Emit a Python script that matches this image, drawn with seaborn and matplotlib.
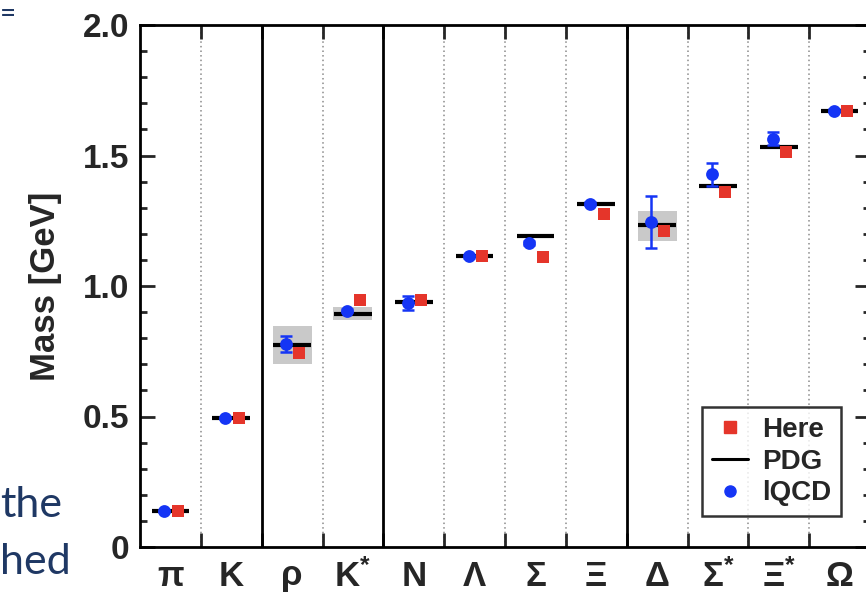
import numpy as np
import pandas as pd
import matplotlib
matplotlib.use("Agg")
import matplotlib.pyplot as plt
import seaborn as sns
from matplotlib.lines import Line2D
from matplotlib.ticker import MultipleLocator, FixedLocator

# ---- data ----
particles = ["π", "K", "ρ", "K$^{*}$", "N", "Λ", "Σ", "Ξ", "Δ", "Σ$^{*}$", "Ξ$^{*}$", "Ω"]
pdg_mass  = [0.139, 0.494, 0.775, 0.893, 0.939, 1.116, 1.190, 1.315, 1.232, 1.385, 1.533, 1.672]
here_mass = [0.139, 0.494, 0.745, 0.948, 0.945, 1.114, 1.112, 1.276, 1.212, 1.360, 1.513, 1.670]
lqcd_mass = [0.139, 0.494, 0.778, 0.905, 0.935, 1.114, 1.165, 1.315, 1.245, 1.428, 1.565, 1.672]
lqcd_err  = [0.004, 0.004, 0.030, 0.006, 0.026, 0.005, 0.006, 0.005, 0.098, 0.045, 0.024, 0.006]
width_lo  = [np.nan, np.nan, 0.700, 0.870, np.nan, np.nan, np.nan, np.nan, 1.173, np.nan, np.nan, np.nan]
width_hi  = [np.nan, np.nan, 0.848, 0.918, np.nan, np.nan, np.nan, np.nan, 1.286, np.nan, np.nan, np.nan]
solid_separators  = [2, 4, 8]
dotted_separators = [1, 3, 5, 6, 7, 9, 10, 11]
yticks = [0, 0.5, 1.0, 1.5, 2.0]
ytick_labels = ["0", "0.5", "1.0", "1.5", "2.0"]
legend_labels = ["Here", "PDG", "lQCD"]

BLUE = "#1535f5"
RED = "#e5352a"

sns.set_style("ticks")
plt.rcParams["font.family"] = ["Liberation Sans", "DejaVu Sans"]
plt.rcParams["mathtext.fontset"] = "custom"
plt.rcParams["mathtext.bf"] = "Liberation Sans:bold"
plt.rcParams["mathtext.rm"] = "Liberation Sans:bold"
plt.rcParams["mathtext.default"] = "bf"

W, H = 866, 595
fig = plt.figure(figsize=(W / 100, H / 100), dpi=100)
ax = fig.add_axes([140 / W, 48 / H, 730 / W, 522 / H])

n = len(particles)
centers = np.arange(n) + 0.5
df = pd.DataFrame({
    "x": centers,
    "pdg": pdg_mass,
    "here": here_mass,
    "lqcd": lqcd_mass,
    "err": lqcd_err,
    "lo": width_lo,
    "hi": width_hi,
})

# gray width bands
for _, r in df.dropna(subset=["lo"]).iterrows():
    ax.fill_between([r.x - 0.32, r.x + 0.32], r.lo, r.hi, color="#c9c9c9", lw=0, zorder=1)

# separators
for s in dotted_separators:
    ax.axvline(s, color="#8a8a8a", lw=1.1, ls=(0, (1, 2)), zorder=0.5)
for s in solid_separators:
    ax.axvline(s, color="black", lw=2.0, zorder=0.6)

# PDG lines
ax.hlines(df.pdg, df.x - 0.31, df.x + 0.31, color="black", lw=3.0, zorder=2)

# lQCD error bars + points
ax.errorbar(df.x - 0.1, df.lqcd, yerr=df.err, fmt="none", ecolor=BLUE, elinewidth=1.8,
            capsize=4, capthick=1.8, zorder=3)
sns.scatterplot(x=df.x - 0.1, y=df.lqcd, ax=ax, color=BLUE, marker="o", s=85,
                edgecolor=BLUE, linewidth=0, zorder=4, legend=False)
sns.scatterplot(x=df.x + 0.12, y=df.here, ax=ax, color=RED, marker="s", s=75,
                edgecolor=RED, linewidth=0, zorder=5, legend=False)

ax.set_xlim(0, n)
ax.set_ylim(0, 2.0)
ax.set_xlabel("")
ax.set_ylabel("Mass [GeV]", fontsize=25, fontweight="bold")
ax.yaxis.set_label_coords((62 - 140) / 730, 0.5)

# x ticks: separators as major ticks, labels at centers
ax.xaxis.set_major_locator(FixedLocator(list(range(1, n))))
ax.xaxis.set_minor_locator(FixedLocator(list(centers)))
ax.set_xticklabels([], minor=False)
ax.set_xticklabels(particles, minor=True, fontsize=25, fontweight="bold")
ax.tick_params(axis="x", which="major", direction="in", length=10, width=2,
               top=True, bottom=True, labelbottom=False)
ax.tick_params(axis="x", which="minor", length=0, pad=9)

# y ticks
ax.set_yticks(yticks)
ax.set_yticklabels(ytick_labels, fontsize=24, fontweight="bold")
ax.yaxis.set_minor_locator(MultipleLocator(0.1))
ax.tick_params(axis="y", which="major", direction="in", length=11, width=2,
               left=True, right=True, pad=8)
ax.tick_params(axis="y", which="minor", direction="in", length=5, width=2,
               left=True, right=True)

for sp in ax.spines.values():
    sp.set_linewidth(2.0)
    sp.set_color("black")

# legend
handles = [
    Line2D([], [], marker="s", color=RED, ls="none", markersize=8),
    Line2D([], [], color="black", lw=2.2),
    Line2D([], [], marker="o", color=BLUE, ls="none", markersize=8),
]
leg = ax.legend(handles, legend_labels, loc="lower right",
                bbox_to_anchor=((841 - 140) / 730, (595 - 516 - 48) / 522),
                prop={"weight": "bold", "size": 20}, frameon=True, fancybox=False,
                handlelength=1.3, handletextpad=0.5, labelspacing=0.2,
                borderpad=0.35, borderaxespad=0)
leg.get_frame().set_edgecolor("black")
leg.get_frame().set_linewidth(1.8)

# fragments of neighbouring slide text
NAVY = "#1f3864"
fig.text(0, 1 - 517 / H, "the", fontsize=31, color=NAVY, family=["Lato", "DejaVu Sans"],
         ha="left", va="baseline")
fig.text(0, 1 - 574 / H, "hed", fontsize=31, color=NAVY, family=["Lato", "DejaVu Sans"],
         ha="left", va="baseline")
fig.text(0, 1 - 22 / H, "=", fontsize=20, color=NAVY, family=["Lato", "DejaVu Sans"],
         ha="left", va="baseline")

fig.savefig("out.png", dpi=100)
